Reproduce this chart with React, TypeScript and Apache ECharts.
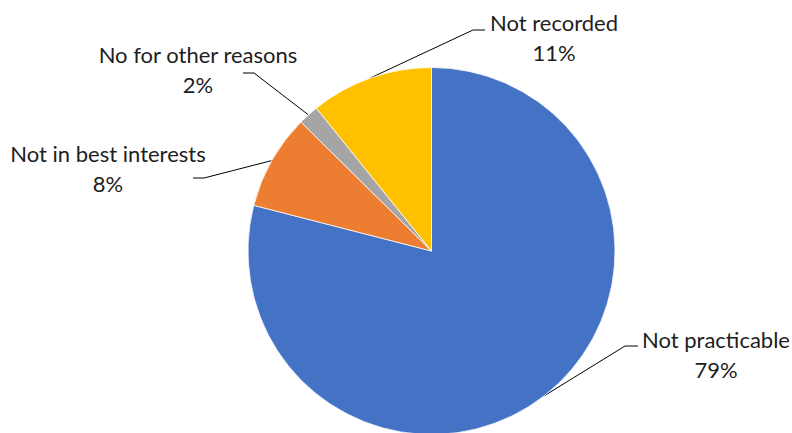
import React, { useEffect, useRef } from 'react';
import * as echarts from 'echarts';

// ---- data ----
const categories = ['Not practicable', 'Not in best interests', 'No for other reasons', 'Not recorded'];
const shares = [79.0, 8.4, 1.8, 10.8];

// ---- styles / layout ----
const colors = ['#4472C4', '#ED7D31', '#A5A5A5', '#FFC000'];
const FONT = 'Lato';
const FONT_SIZE = 22;
const LINE_HEIGHT = 30;
// label block centre, leader-line elbow and end (px)
const LABEL_LAYOUT = [
  { cx: 716, cy: 354, elbow: [625, 346], end: [638, 346] },
  { cx: 108, cy: 168, elbow: [204, 178], end: [193, 178] },
  { cx: 198, cy: 69, elbow: [254, 73], end: [243, 73] },
  { cx: 554, cy: 37, elbow: [473, 30], end: [485, 30] },
];

export default function App() {
  const ref = useRef<HTMLDivElement>(null);
  useEffect(() => {
    if (!ref.current) return;
    const chart = echarts.init(ref.current, undefined, { renderer: 'svg' });
    chart.setOption({
      animation: false,
      backgroundColor: '#ffffff',
      textStyle: { fontFamily: FONT },
      series: [
        {
          type: 'pie',
          center: [431.5, 251],
          radius: 183.5,
          startAngle: 90,
          clockwise: true,
          avoidLabelOverlap: false,
          percentPrecision: 0,
          itemStyle: { borderColor: '#ffffff', borderWidth: 0.75 },
          label: {
            show: true,
            position: 'outside',
            formatter: '{b}\n{d}%',
            fontFamily: FONT,
            fontSize: FONT_SIZE,
            lineHeight: LINE_HEIGHT,
            color: '#1e1e1e',
          },
          labelLine: {
            show: true,
            length: 20,
            length2: 10,
            lineStyle: { color: '#000000', width: 1 },
          },
          labelLayout: (params: any) => {
            const l = LABEL_LAYOUT[params.dataIndex];
            const start = params.labelLinePoints ? params.labelLinePoints[0] : l.elbow;
            return {
              x: l.cx,
              y: l.cy,
              align: 'center',
              verticalAlign: 'middle',
              labelLinePoints: [start, l.elbow, l.end],
            };
          },
          data: categories.map((name, i) => ({
            name,
            value: shares[i],
            itemStyle: { color: colors[i] },
          })),
        },
      ],
    });
    return () => chart.dispose();
  }, []);
  return (
    <div
      ref={ref}
      style={{ position: 'fixed', left: 0, top: 0, width: 792, height: 433 }}
    />
  );
}
